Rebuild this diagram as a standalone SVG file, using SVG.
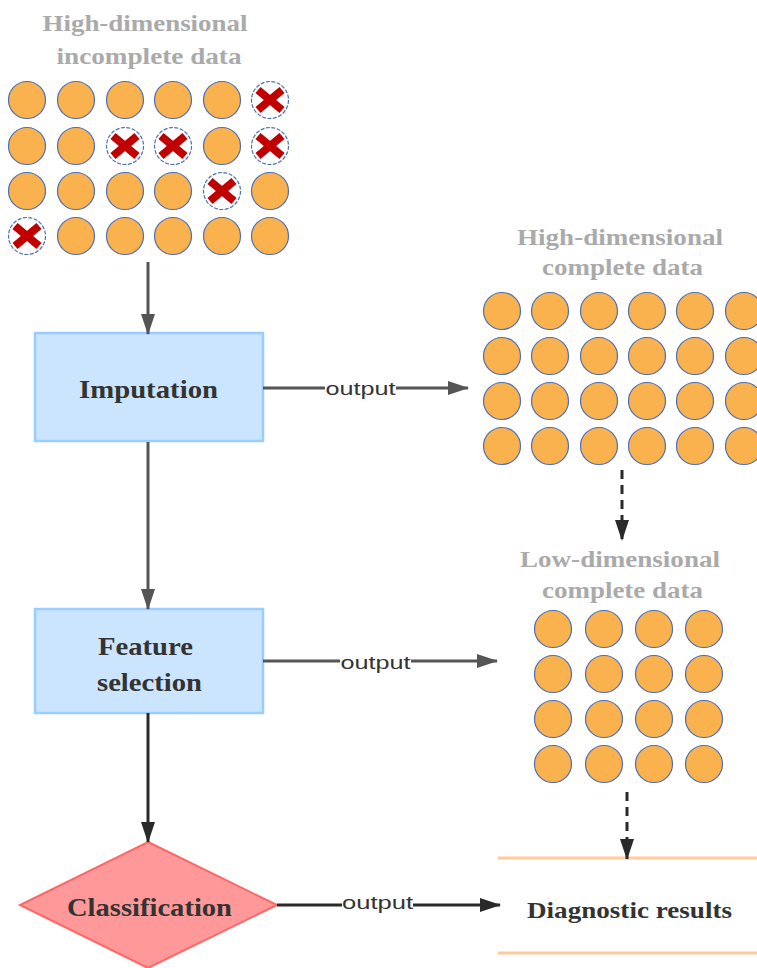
<svg xmlns="http://www.w3.org/2000/svg" width="757" height="968" viewBox="0 0 757 968">
<style>
.title{font-family:"Liberation Serif","Times New Roman",serif;font-weight:bold;font-size:24px;fill:#aaaaaa;text-anchor:middle}
.lbl{font-family:"Liberation Serif","Times New Roman",serif;font-weight:bold;font-size:26px;fill:#333333;text-anchor:middle}
.out{font-family:"Liberation Sans",Arial,sans-serif;font-size:19px;fill:#333333;text-anchor:middle;dominant-baseline:central}
.dot{fill:#f9b24d;stroke:#4a6fb5;stroke-width:1.2}
.miss{fill:#ffffff;stroke:#4a6fb5;stroke-width:1.2;stroke-dasharray:4,1.5}
.x{stroke:#c00000;stroke-width:8;stroke-linecap:butt}
.edge{fill:none;stroke-width:3}
</style>
<defs>
<marker id="ahG" markerUnits="userSpaceOnUse" markerWidth="22" markerHeight="16" refX="20" refY="8" orient="auto"><path d="M0,1 L21,8 L0,15 z" fill="#555555"/></marker>
<marker id="ahD" markerUnits="userSpaceOnUse" markerWidth="22" markerHeight="16" refX="20" refY="8" orient="auto"><path d="M0,1 L21,8 L0,15 z" fill="#2a2a2a"/></marker>
<circle id="c" r="18.5" class="dot"/>
<g id="m"><circle r="18.5" class="miss"/><line x1="-12" y1="-10" x2="12" y2="10" class="x"/><line x1="12" y1="-10" x2="-12" y2="10" class="x"/></g>
</defs>

<g id="incomplete-data">
<text class="title" x="145" y="31" textLength="205" lengthAdjust="spacingAndGlyphs">High-dimensional</text>
<text class="title" x="149" y="64" textLength="185" lengthAdjust="spacingAndGlyphs">incomplete data</text>
<use href="#c" x="27" y="100"/><use href="#c" x="76" y="100"/><use href="#c" x="125" y="100"/><use href="#c" x="173" y="100"/><use href="#c" x="222" y="100"/><use href="#m" x="270" y="100"/>
<use href="#c" x="27" y="146"/><use href="#c" x="76" y="146"/><use href="#m" x="125" y="146"/><use href="#m" x="173" y="146"/><use href="#c" x="222" y="146"/><use href="#m" x="270" y="146"/>
<use href="#c" x="27" y="191"/><use href="#c" x="76" y="191"/><use href="#c" x="125" y="191"/><use href="#c" x="173" y="191"/><use href="#m" x="222" y="191"/><use href="#c" x="270" y="191"/>
<use href="#m" x="27" y="236"/><use href="#c" x="76" y="236"/><use href="#c" x="125" y="236"/><use href="#c" x="173" y="236"/><use href="#c" x="222" y="236"/><use href="#c" x="270" y="236"/>
</g>

<g id="imputation">
<rect x="35" y="333" width="228" height="108" fill="#cce5ff" stroke="#99ccff" stroke-width="2.5"/>
<text class="lbl" x="148.5" y="398" textLength="139" lengthAdjust="spacingAndGlyphs">Imputation</text>
</g>

<g id="feature-selection">
<rect x="35" y="609" width="228" height="104" fill="#cce5ff" stroke="#99ccff" stroke-width="2.5"/>
<text class="lbl" x="145.5" y="655" textLength="95" lengthAdjust="spacingAndGlyphs">Feature</text>
<text class="lbl" x="149.5" y="691" textLength="105" lengthAdjust="spacingAndGlyphs">selection</text>
</g>

<g id="classification">
<polygon points="148,842 277,905 148,968 20,905" fill="#ff9999" stroke="#ff6666" stroke-width="2"/>
<text class="lbl" x="149.5" y="916" textLength="165" lengthAdjust="spacingAndGlyphs">Classification</text>
</g>

<g id="high-complete-data">
<text class="title" x="620" y="245" textLength="206" lengthAdjust="spacingAndGlyphs">High-dimensional</text>
<text class="title" x="622.5" y="275" textLength="161" lengthAdjust="spacingAndGlyphs">complete data</text>
<use href="#c" x="502" y="311"/><use href="#c" x="550" y="311"/><use href="#c" x="599" y="311"/><use href="#c" x="647" y="311"/><use href="#c" x="695" y="311"/><use href="#c" x="744" y="311"/>
<use href="#c" x="502" y="356"/><use href="#c" x="550" y="356"/><use href="#c" x="599" y="356"/><use href="#c" x="647" y="356"/><use href="#c" x="695" y="356"/><use href="#c" x="744" y="356"/>
<use href="#c" x="502" y="401"/><use href="#c" x="550" y="401"/><use href="#c" x="599" y="401"/><use href="#c" x="647" y="401"/><use href="#c" x="695" y="401"/><use href="#c" x="744" y="401"/>
<use href="#c" x="502" y="446"/><use href="#c" x="550" y="446"/><use href="#c" x="599" y="446"/><use href="#c" x="647" y="446"/><use href="#c" x="695" y="446"/><use href="#c" x="744" y="446"/>
</g>

<g id="low-complete-data">
<text class="title" x="620" y="567" textLength="200" lengthAdjust="spacingAndGlyphs">Low-dimensional</text>
<text class="title" x="622.5" y="598" textLength="161" lengthAdjust="spacingAndGlyphs">complete data</text>
<use href="#c" x="553" y="629"/><use href="#c" x="604" y="629"/><use href="#c" x="654" y="629"/><use href="#c" x="704" y="629"/>
<use href="#c" x="553" y="674"/><use href="#c" x="604" y="674"/><use href="#c" x="654" y="674"/><use href="#c" x="704" y="674"/>
<use href="#c" x="553" y="719"/><use href="#c" x="604" y="719"/><use href="#c" x="654" y="719"/><use href="#c" x="704" y="719"/>
<use href="#c" x="553" y="764"/><use href="#c" x="604" y="764"/><use href="#c" x="654" y="764"/><use href="#c" x="704" y="764"/>
</g>

<g id="diagnostic-results">
<line x1="498" y1="858" x2="757" y2="858" stroke="#ffcc99" stroke-width="3"/>
<line x1="498" y1="953" x2="757" y2="953" stroke="#ffcc99" stroke-width="3"/>
<text class="lbl" x="629.5" y="918" style="font-size:23px" textLength="205" lengthAdjust="spacingAndGlyphs">Diagnostic results</text>
</g>

<g id="connectors">
<line class="edge" x1="148" y1="262" x2="148" y2="334" stroke="#555555" marker-end="url(#ahG)"/>
<line class="edge" x1="148" y1="442" x2="148" y2="609" stroke="#555555" marker-end="url(#ahG)"/>
<line class="edge" x1="148" y1="713" x2="148" y2="842" stroke="#2a2a2a" marker-end="url(#ahD)"/>
<line class="edge" x1="263" y1="388" x2="468" y2="388" stroke="#555555" marker-end="url(#ahG)"/>
<rect x="325" y="378" width="71" height="20" fill="#ffffff"/>
<text class="out" x="360.5" y="388" textLength="70" lengthAdjust="spacingAndGlyphs">output</text>
<line class="edge" x1="263" y1="661" x2="497" y2="661" stroke="#555555" marker-end="url(#ahG)"/>
<rect x="340" y="651" width="71" height="20" fill="#ffffff"/>
<text class="out" x="375.5" y="662" textLength="70" lengthAdjust="spacingAndGlyphs">output</text>
<line class="edge" x1="277" y1="905" x2="500" y2="905" stroke="#2a2a2a" marker-end="url(#ahD)"/>
<rect x="342" y="895" width="71" height="20" fill="#ffffff"/>
<text class="out" x="377.5" y="902" textLength="71" lengthAdjust="spacingAndGlyphs">output</text>
<line class="edge" x1="622" y1="470" x2="622" y2="540" stroke="#2a2a2a" stroke-dasharray="9,6" marker-end="url(#ahD)"/>
<line class="edge" x1="627" y1="792" x2="627" y2="859" stroke="#2a2a2a" stroke-dasharray="9,6" marker-end="url(#ahD)"/>
</g>
</svg>
